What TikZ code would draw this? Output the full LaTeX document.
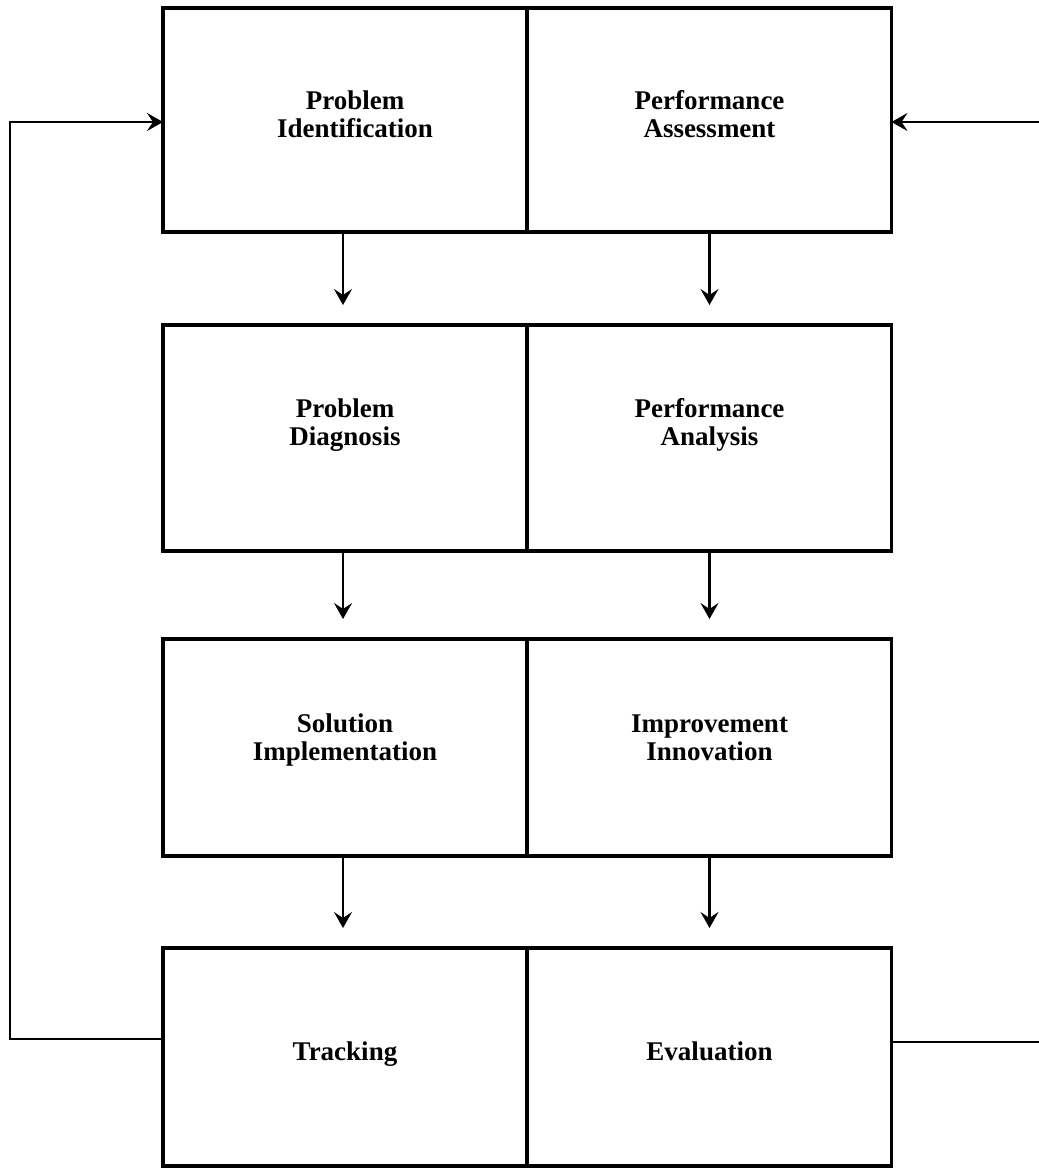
\documentclass[tikz,border=0pt]{standalone}
\usepackage{fontspec}
\setmainfont{Liberation Serif}
\usetikzlibrary{arrows.meta}
\begin{document}
\begin{tikzpicture}[x=0.5pt,y=-0.5pt,
  cell/.style={draw,line width=1.6pt,inner sep=0pt,outer sep=0pt,minimum width=182pt},
  txt/.style={align=center,font=\fontsize{13.5pt}{14pt}\selectfont\bfseries,inner sep=0pt,text depth=0pt},
  arr/.style={line width=1.1pt,-{Stealth[length=8pt,width=9pt,inset=3pt]},shorten >=10pt},
  fb/.style={line width=1.4pt},
  fbarr/.style={line width=1.4pt,-{Stealth[length=8pt,width=9pt,inset=3pt]}}]
\useasboundingbox (0,0) rectangle (1039,1168);
% cells
\node[cell,minimum height=112pt] (pi) at (345,120) {};
\node[cell,minimum height=112pt] (pa) at (709.5,120) {};
\node[cell,minimum height=113pt] (pd) at (345,438) {};
\node[cell,minimum height=113pt] (pn) at (709.5,438) {};
\node[cell,minimum height=108.5pt] (si) at (345,747.5) {};
\node[cell,minimum height=108.5pt] (ii) at (709.5,747.5) {};
\node[cell,minimum height=109pt] (tr) at (345,1057) {};
\node[cell,minimum height=109pt] (ev) at (709.5,1057) {};
% texts
\node[txt] (tpi) at ([xshift=5pt,yshift=3pt]pi.center) {Problem\\Identification};
\node[txt] (tpa) at ([yshift=3pt]pa.center) {Performance\\Assessment};
\node[txt] (tpd) at ([yshift=8pt]pd.center) {Problem\\Diagnosis};
\node[txt] (tpn) at ([yshift=8pt]pn.center) {Performance\\Analysis};
\node[txt] (tsi) at ([yshift=5pt]si.center) {Solution\\Implementation};
\node[txt] (tii) at ([yshift=5pt]ii.center) {Improvement\\Innovation};
\node[txt] (ttr) at ([yshift=3pt]tr.center) {Tracking};
\node[txt] (tev) at ([yshift=3pt]ev.center) {Evaluation};
% down arrows
\draw[arr] ([xshift=-1pt]pi.south) -- ([xshift=-1pt]pd.north);
\draw[arr] (pa.south) -- (pn.north);
\draw[arr] ([xshift=-1pt]pd.south) -- ([xshift=-1pt]si.north);
\draw[arr] (pn.south) -- (ii.north);
\draw[arr] ([xshift=-1pt]si.south) -- ([xshift=-1pt]tr.north);
\draw[arr] (ii.south) -- (ev.north);
% feedback loops
\coordinate (fbL) at (10,1039);
\coordinate (fbRb) at (1039,1042);
\coordinate (fbRt) at (1039,122);
\draw[fbarr] ([yshift=9pt]tr.west) -- (fbL) |- ([yshift=-1pt]pi.west);
\draw[fb] ([yshift=7.5pt]ev.east) -- (fbRb);
\draw[fbarr] (fbRt) -- ([yshift=-1pt]pa.east);
\end{tikzpicture}
\end{document}
